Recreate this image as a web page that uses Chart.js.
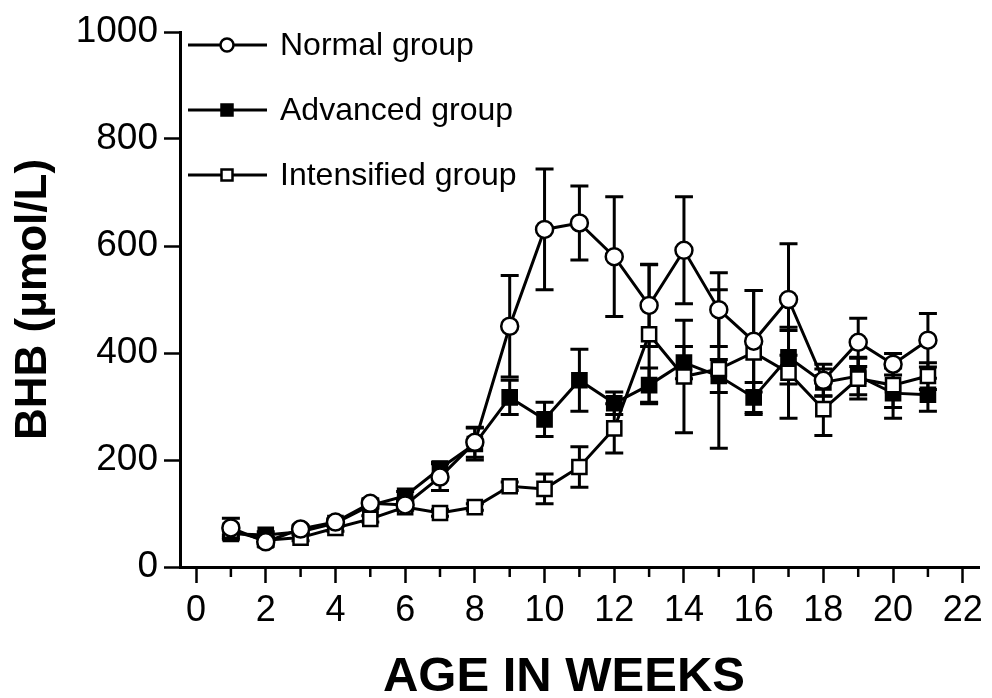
<!DOCTYPE html>
<html>
<head>
<meta charset="utf-8">
<script src="https://cdn.jsdelivr.net/npm/chart.js@4.4.0/dist/chart.umd.min.js"></script>
<style>
  html, body { margin: 0; padding: 0; background: #fff; }
</style>
</head>
<body>
<canvas id="myChart" width="992" height="698"></canvas>
<script>
// BHB by age, three feeding groups (mean with error)
const weeks = [1, 2, 3, 4, 5, 6, 7, 8, 9, 10, 11, 12, 13, 14, 15, 16, 17, 18, 19, 20, 21];

const normalMean = [73, 47, 71, 84, 119, 116, 168, 233, 450, 631, 643, 580, 489, 592, 481, 422, 500, 349, 420, 379, 424];
const normalErr  = [18, 8, 6, 6, 8, 8, 25, 28, 95, 113, 69, 112, 77, 100, 69, 95, 104, 30, 45, 20, 50];

const advancedMean = [62, 60, 66, 82, 115, 133, 184, 230, 317, 276, 349, 306, 340, 382, 357, 317, 392, 345, 357, 325, 322];
const advancedErr  = [10, 6, 5, 6, 6, 8, 12, 30, 32, 32, 58, 21, 32, 30, 31, 28, 50, 25, 35, 47, 31];

const intensMean = [68, 50, 55, 73, 90, 112, 101, 112, 151, 146, 187, 259, 435, 356, 370, 401, 363, 295, 352, 340, 357];
const intensErr  = [8, 6, 6, 6, 6, 6, 6, 6, 8, 28, 38, 46, 130, 105, 148, 116, 85, 49, 38, 42, 25];

const xTicks = [0, 2, 4, 6, 8, 10, 12, 14, 16, 18, 20, 22];
const xMinorTicks = [1, 3, 5, 7, 9, 11, 13, 15, 17, 19, 21];
const yTicks = [0, 200, 400, 600, 800, 1000];

const xTitle = 'AGE IN WEEKS';
const yTitle = 'BHB (μmol/L)';

const FONT = '"Liberation Sans", Arial, Helvetica, sans-serif';

function toPoints(means) {
    return weeks.map((w, i) => ({ x: w, y: means[i] }));
}

// error bars sit under the markers
const errorBars = {
    id: 'errorBars',
    beforeDatasetsDraw(chart) {
        const ctx = chart.ctx;
        const xs = chart.scales.x, ys = chart.scales.y;
        ctx.save();
        ctx.strokeStyle = '#000';
        ctx.lineWidth = 3;
        chart.data.datasets.forEach(ds => {
            ds.data.forEach((p, i) => {
                const e = ds.errors[i];
                const px = xs.getPixelForValue(p.x);
                const top = ys.getPixelForValue(p.y + e);
                const bot = ys.getPixelForValue(p.y - e);
                ctx.beginPath();
                ctx.moveTo(px, top); ctx.lineTo(px, bot);
                ctx.moveTo(px - 9, top); ctx.lineTo(px + 9, top);
                ctx.moveTo(px - 9, bot); ctx.lineTo(px + 9, bot);
                ctx.stroke();
            });
        });
        ctx.restore();
    }
};

// short unlabelled ticks on the odd weeks, plus the x title
const minorTicks = {
    id: 'minorTicks',
    afterDraw(chart) {
        const ctx = chart.ctx;
        const xs = chart.scales.x;
        const y0 = chart.chartArea.bottom;
        ctx.save();
        ctx.strokeStyle = '#000';
        ctx.lineWidth = 2.5;
        xMinorTicks.forEach(v => {
            const px = xs.getPixelForValue(v);
            ctx.beginPath();
            ctx.moveTo(px, y0);
            ctx.lineTo(px, y0 + 10);
            ctx.stroke();
        });
        ctx.fillStyle = '#000';
        ctx.font = 'bold 49px ' + FONT;
        ctx.textAlign = 'center';
        ctx.textBaseline = 'middle';
        ctx.fillText(xTitle, 564, 677);
        ctx.restore();
    }
};

// legend drawn inside the plot, top left
const insideLegend = {
    id: 'insideLegend',
    afterDraw(chart) {
        const ctx = chart.ctx;
        const rows = [45, 110, 175];
        ctx.save();
        ctx.font = '32px ' + FONT;
        ctx.textBaseline = 'middle';
        chart.data.datasets.forEach((ds, i) => {
            const y = rows[i];
            ctx.strokeStyle = '#000';
            ctx.lineWidth = 3;
            ctx.beginPath();
            ctx.moveTo(188, y); ctx.lineTo(267, y);
            ctx.stroke();
            ctx.lineWidth = 2.5;
            ctx.fillStyle = ds.pointBackgroundColor;
            ctx.beginPath();
            if (ds.pointStyle === 'circle') {
                ctx.arc(227, y, 6.5, 0, Math.PI * 2);
            } else {
                ctx.rect(227 - 5.5, y - 5.5, 11, 11);
            }
            ctx.fill();
            ctx.stroke();
            ctx.fillStyle = '#000';
            ctx.fillText(ds.label, 280, y + 1);
        });
        ctx.restore();
    }
};

const ctx = document.getElementById('myChart');
const myChart = new Chart(ctx, {
    type: 'line',
    data: {
        datasets: [
            {
                label: 'Normal group',
                data: toPoints(normalMean),
                errors: normalErr,
                borderColor: '#000',
                borderWidth: 3,
                pointStyle: 'circle',
                pointRadius: 8.5,
                pointBorderWidth: 2.5,
                pointBackgroundColor: '#fff',
                pointBorderColor: '#000',
                order: 0
            },
            {
                label: 'Advanced group',
                data: toPoints(advancedMean),
                errors: advancedErr,
                borderColor: '#000',
                borderWidth: 3,
                pointStyle: 'rect',
                pointRadius: 10,
                pointBorderWidth: 2.5,
                pointBackgroundColor: '#000',
                pointBorderColor: '#000',
                order: 2
            },
            {
                label: 'Intensified group',
                data: toPoints(intensMean),
                errors: intensErr,
                borderColor: '#000',
                borderWidth: 3,
                pointStyle: 'rect',
                pointRadius: 10,
                pointBorderWidth: 2.5,
                pointBackgroundColor: '#fff',
                pointBorderColor: '#000',
                order: 1
            }
        ]
    },
    options: {
        responsive: false,
        animation: false,
        devicePixelRatio: 1,
        layout: {
            padding: { top: 32, right: 7, left: 0, bottom: 0 }
        },
        scales: {
            x: {
                type: 'linear',
                min: -0.46,
                max: 22.48,
                afterBuildTicks: scale => {
                    scale.ticks = xTicks.map(v => ({ value: v }));
                },
                afterFit: scale => { scale.height = 131; },
                grid: {
                    drawOnChartArea: false,
                    drawTicks: true,
                    tickLength: 16,
                    tickWidth: 2.5,
                    tickColor: '#000'
                },
                border: { display: true, color: '#000', width: 3 },
                ticks: {
                    color: '#000',
                    padding: 6,
                    maxRotation: 0,
                    font: { family: FONT, size: 36 },
                    callback: v => String(v)
                },
                title: { display: false }
            },
            y: {
                min: 0,
                max: 1000,
                afterBuildTicks: scale => {
                    scale.ticks = yTicks.map(v => ({ value: v }));
                },
                afterFit: scale => { scale.width = 180; },
                grid: {
                    drawOnChartArea: false,
                    drawTicks: true,
                    tickLength: 16,
                    tickWidth: 2.5,
                    tickColor: '#000'
                },
                border: { display: true, color: '#000', width: 3 },
                ticks: {
                    color: '#000',
                    padding: 6,
                    font: { family: FONT, size: 37 },
                    callback: v => String(v)
                },
                title: {
                    display: true,
                    text: yTitle,
                    color: '#000',
                    font: { family: FONT, size: 44, weight: 'bold', lineHeight: 1 },
                    padding: { top: 12, bottom: 0 }
                }
            }
        },
        plugins: {
            legend: { display: false },
            tooltip: { enabled: false }
        }
    },
    plugins: [errorBars, minorTicks, insideLegend]
});
</script>
</body>
</html>
